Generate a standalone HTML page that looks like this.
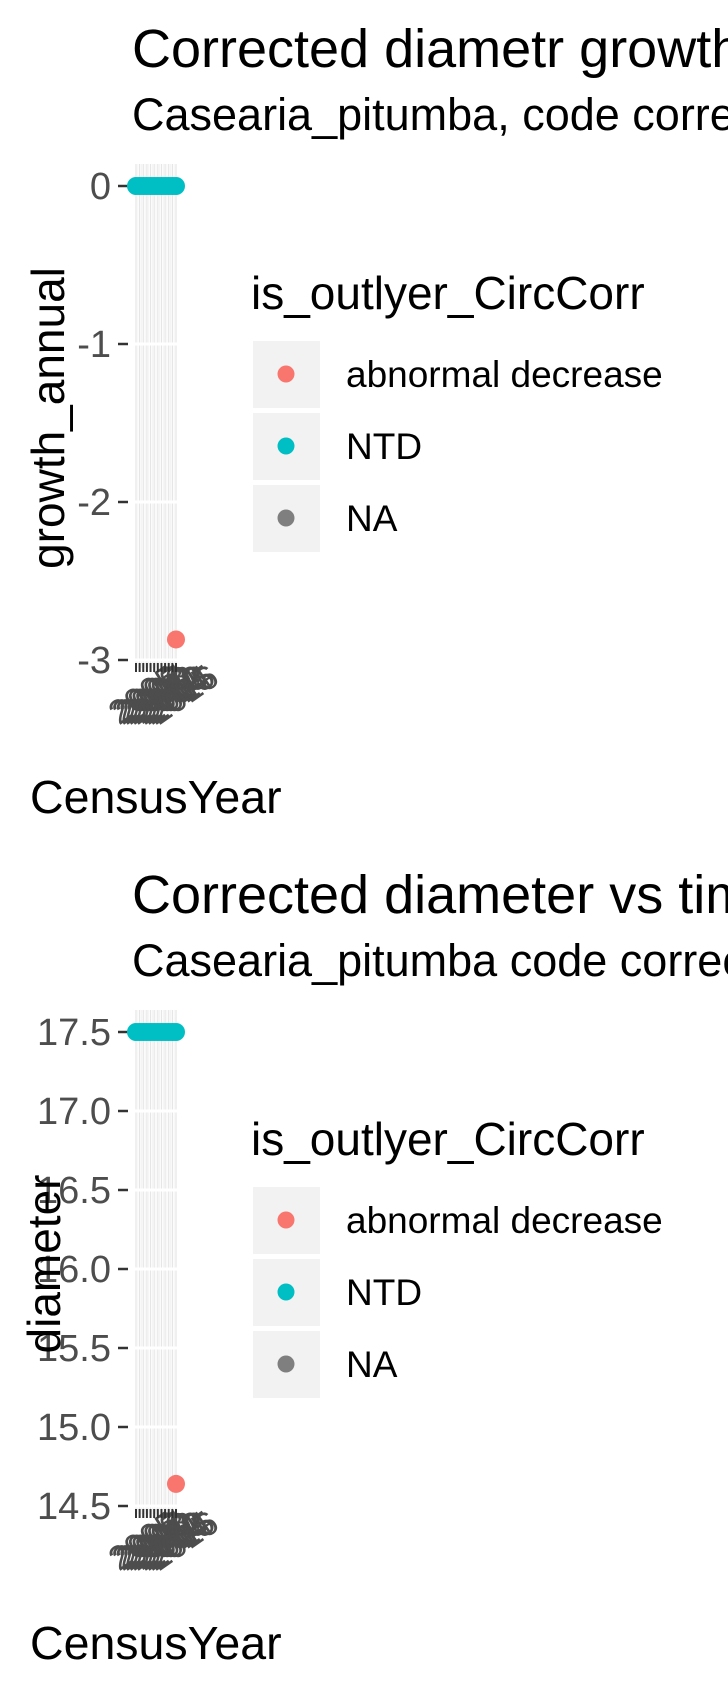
<!DOCTYPE html>
<html><head><meta charset="utf-8"><style>
html,body{margin:0;padding:0;background:#fff;}
svg{display:block;font-family:"Liberation Sans",sans-serif;}
</style></head><body>
<svg id="root" width="728" height="1693" viewBox="0 0 728 1693" xmlns="http://www.w3.org/2000/svg"></svg>
<script>
const years = [2005,2006,2007,2008,2009,2010,2011,2012,2013,2014,2015,2016];
const growthNTD = [0,0,0,0,0,0,0,0,0,0,0,0];
const growthAbnormalYear = [2016];
const growthAbnormal = [-2.87];
const growthTicks = [0,-1,-2,-3];
const diamNTD = [17.5,17.5,17.5,17.5,17.5,17.5,17.5,17.5,17.5,17.5,17.5,17.5];
const diamAbnormalYear = [2016];
const diamAbnormal = [14.64];
const diamTicks = [17.5,17.0,16.5,16.0,15.5,15.0,14.5];
const legendLabels = ["abnormal decrease","NTD","NA"];
const legendColors = ["#F8766D","#00BFC4","#7F7F7F"];

const NS="http://www.w3.org/2000/svg";
const root=document.getElementById('root');
function mk(tag,attrs,parent,text){const e=document.createElementNS(NS,tag);for(const k in attrs)e.setAttribute(k,attrs[k]);if(text!==undefined)e.textContent=text;(parent||root).appendChild(e);return e;}

function plot(off, cfg){
  const g=mk('g',{});
  
  
  const t=mk('text',{x:132,y:off+67,'font-size':54,fill:'#000'},g,cfg.title);
  
  
  const st=mk('text',{x:132,y:off+130,'font-size':45,fill:'#000'},g,cfg.subtitle);
  
  
  const pl=132, pr=181, yTop=off+164, yBot=off+668;
  const x0=years[0], x1=years[years.length-1];
  const xs=v=>pl+4+(v-x0)/(x1-x0)*(pr-pl-9);
  const yv0=cfg.ticks[0], yv1=cfg.ticks[cfg.ticks.length-1];
  const ys=v=>off+186+(yv0-v)/(yv0-yv1)*(660-186);
  for(let i=0;i<years.length;i++){
    const gl=mk('line',{x1:xs(years[i]),x2:xs(years[i]),y1:yTop,y2:yBot,stroke:'#e6e6e6','stroke-width':1.2},g);
    
    
    if(i<years.length-1){const m=(xs(years[i])+xs(years[i+1]))/2;
      const ml=mk('line',{x1:m,x2:m,y1:yTop,y2:yBot,stroke:'#f2f2f2','stroke-width':0.8},g);
      
      }
  }
  for(let i=0;i<cfg.ticks.length;i++){
    const y=ys(cfg.ticks[i]);
    const hl=mk('line',{x1:pl,x2:pr,y1:y,y2:y,stroke:'#fff','stroke-width':3},g);
    
    
    const tk=mk('line',{x1:118,x2:128,y1:y,y2:y,stroke:'#333','stroke-width':2.5},g);
    
    
    const lb=mk('text',{x:111,y:y+13,'font-size':38,fill:'#4d4d4d','text-anchor':'end'},g,cfg.tickLabels[i]);
    
    
  }
  for(let i=0;i<years.length;i++){
    const x=xs(years[i]);
    const xt=mk('line',{x1:x,x2:x,y1:off+663,y2:off+672,stroke:'#333','stroke-width':2},g);
    
    
    const xl=mk('text',{x:0,y:0,'font-size':34,fill:'#4d4d4d','text-anchor':'middle',
      transform:`translate(${x+14},${off+704}) rotate(-35)`},g,String(years[i]));
    
    
  }
  for(let i=0;i<years.length;i++){
    const c=mk('circle',{cx:xs(years[i]),cy:ys(cfg.ntd[i]),r:9,fill:'#00BFC4'},g);
    
    
  }
  for(let i=0;i<cfg.abY.length;i++){
    const c=mk('circle',{cx:xs(cfg.abY[i]),cy:ys(cfg.ab[i]),r:9,fill:'#F8766D'},g);
    
    
  }
  const yt=mk('text',{x:0,y:0,'font-size':46,fill:'#000','text-anchor':'middle',
    transform:`translate(${cfg.ytx},${off+418}) rotate(-90)`},g,cfg.ytitle);
  
  
  const xt=mk('text',{x:30,y:off+813,'font-size':46.5,fill:'#000'},g,'CensusYear');
  
  
  const lt=mk('text',{x:251,y:off+309,'font-size':46,fill:'#000'},g,'is_outlyer_CircCorr');
  
  
  for(let i=0;i<legendLabels.length;i++){
    const ty=off+341+i*72;
    const lg=mk('g',{},g);
    
    
    mk('rect',{x:253,y:ty,width:67,height:67,fill:'#f2f2f2'},lg);
    mk('circle',{cx:286,cy:ty+33,r:8.5,fill:legendColors[i]},lg);
    mk('text',{x:346,y:ty+46,'font-size':37,fill:'#000'},lg,legendLabels[i]);
  }
}
plot(0,{name:'growth-plot',title:'Corrected diametr growth vs time',subtitle:'Casearia_pitumba, code corrected',
  ticks:growthTicks,tickLabels:growthTicks.map(String),ntd:growthNTD,abY:growthAbnormalYear,ab:growthAbnormal,
  ytitle:'growth_annual',ytx:64});
plot(846,{name:'diameter-plot',title:'Corrected diameter vs time',subtitle:'Casearia_pitumba code corrected',
  ticks:diamTicks,tickLabels:diamTicks.map(v=>v.toFixed(1)),ntd:diamNTD,abY:diamAbnormalYear,ab:diamAbnormal,
  ytitle:'diameter',ytx:60});
</script>
</body></html>
